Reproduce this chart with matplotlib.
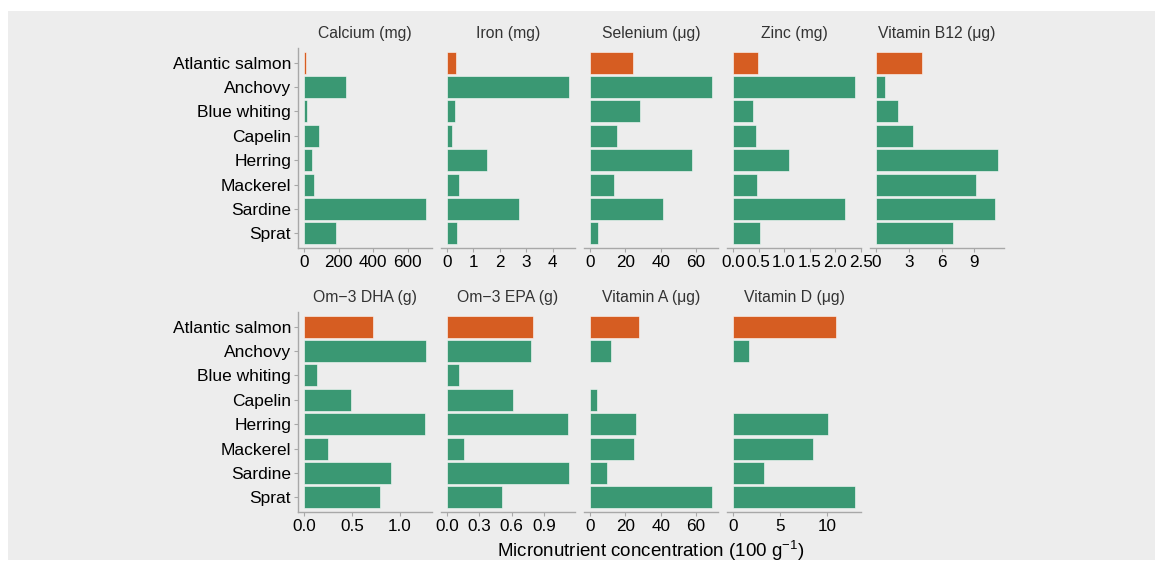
import numpy as np
import matplotlib
matplotlib.use("Agg")
import matplotlib.pyplot as plt
from matplotlib.patches import Rectangle
from matplotlib.ticker import FixedLocator, FixedFormatter

plt.rcParams['font.family'] = ['Liberation Sans', 'DejaVu Sans']
plt.rcParams['mathtext.default'] = 'regular'

species = ['Atlantic salmon', 'Anchovy', 'Blue whiting', 'Capelin',
           'Herring', 'Mackerel', 'Sardine', 'Sprat']

calcium = [9, 242, 15, 88, 45, 58, 705, 185]
iron = [0.34, 4.62, 0.29, 0.18, 1.50, 0.47, 2.71, 0.38]
selenium = [24.1, 68.9, 28.3, 15.3, 57.5, 13.8, 41.5, 4.3]
zinc = [0.49, 2.39, 0.40, 0.45, 1.10, 0.47, 2.19, 0.53]
vit_b12 = [4.19, 0.86, 1.99, 3.43, 11.17, 9.12, 10.86, 7.04]
om3_dha = [0.72, 1.275, 0.14, 0.495, 1.265, 0.25, 0.913, 0.79]
om3_epa = [0.80, 0.78, 0.11, 0.61, 1.12, 0.16, 1.13, 0.51]
vit_a = [27.9, 12.1, np.nan, 4.1, 26.0, 25.1, 9.8, 68.9]
vit_d = [10.95, 1.70, np.nan, np.nan, 10.03, 8.47, 3.28, 12.92]

titles = ['Calcium (mg)', 'Iron (mg)', 'Selenium (μg)', 'Zinc (mg)', 'Vitamin B12 (μg)',
          'Om\u22123 DHA (g)', 'Om\u22123 EPA (g)', 'Vitamin A (μg)', 'Vitamin D (μg)']
values = [calcium, iron, selenium, zinc, vit_b12, om3_dha, om3_epa, vit_a, vit_d]
ticks = [[0, 200, 400, 600], [0, 1, 2, 3, 4], [0, 20, 40, 60],
         [0, 0.5, 1.0, 1.5, 2.0, 2.5], [0, 3, 6, 9],
         [0, 0.5, 1.0], [0, 0.3, 0.6, 0.9], [0, 20, 40, 60], [0, 5, 10]]
decimals = [0, 0, 0, 1, 0, 1, 1, 0, 0]

green = '#3a9873'
orange = '#d65d22'
axis_grey = '#a8a8a8'

W, H = 1162, 565
fig = plt.figure(figsize=(W / 100, H / 100), dpi=100)
fig.patches.append(Rectangle((8 / W, 5 / H), 1147 / W, 549 / H, transform=fig.transFigure,
                             facecolor='#ededed', edgecolor='none', zorder=-10))

lefts = [298, 441, 584, 727, 870]
tops = [48, 312]
pw, ph = 134, 200

ypos = np.arange(len(species))[::-1] + 1
colors = np.array([orange] + [green] * (len(species) - 1))

for i, (title, vals) in enumerate(zip(titles, values)):
    row, col = divmod(i, 5)
    ax = fig.add_axes([lefts[col] / W, (H - tops[row] - ph) / H, pw / W, ph / H])
    ax.set_facecolor('none')
    vals = np.array(vals, dtype=float)
    ok = ~np.isnan(vals)
    vmax = np.nanmax(vals)
    ax.barh(ypos[ok], vals[ok], height=0.9, color=colors[ok],
            edgecolor=(1, 1, 1, 0.55), linewidth=0.7)
    ax.set_xlim(-0.05 * vmax, 1.05 * vmax)
    ax.set_ylim(0.4, len(species) + 0.6)
    ax.set_title(title, fontsize=11.3, color='#333333', pad=7.5)

    ax.xaxis.set_major_locator(FixedLocator(ticks[i]))
    fmt = '{:.%df}' % decimals[i]
    ax.xaxis.set_major_formatter(FixedFormatter([fmt.format(t) for t in ticks[i]]))
    ax.tick_params(axis='x', length=3, width=0.8, color=axis_grey, labelsize=12.3,
                   labelcolor='black', pad=2)

    for s in ['top', 'right']:
        ax.spines[s].set_visible(False)
    ax.spines['bottom'].set_color(axis_grey)
    ax.spines['bottom'].set_linewidth(1.0)
    if col == 0:
        ax.spines['left'].set_color(axis_grey)
        ax.spines['left'].set_linewidth(1.0)
        ax.set_yticks(ypos)
        ax.set_yticklabels(species)
        ax.tick_params(axis='y', length=3, width=0.8, color=axis_grey, labelsize=12.5,
                       labelcolor='black', pad=2)
    else:
        ax.spines['left'].set_visible(False)
        ax.set_yticks([])

fig.text(651 / W, 1 - 551 / H, 'Micronutrient concentration (100 g$^{-1}$)',
         ha='center', va='center', fontsize=13.5, color='black')

fig.savefig('out.png', dpi=100)
